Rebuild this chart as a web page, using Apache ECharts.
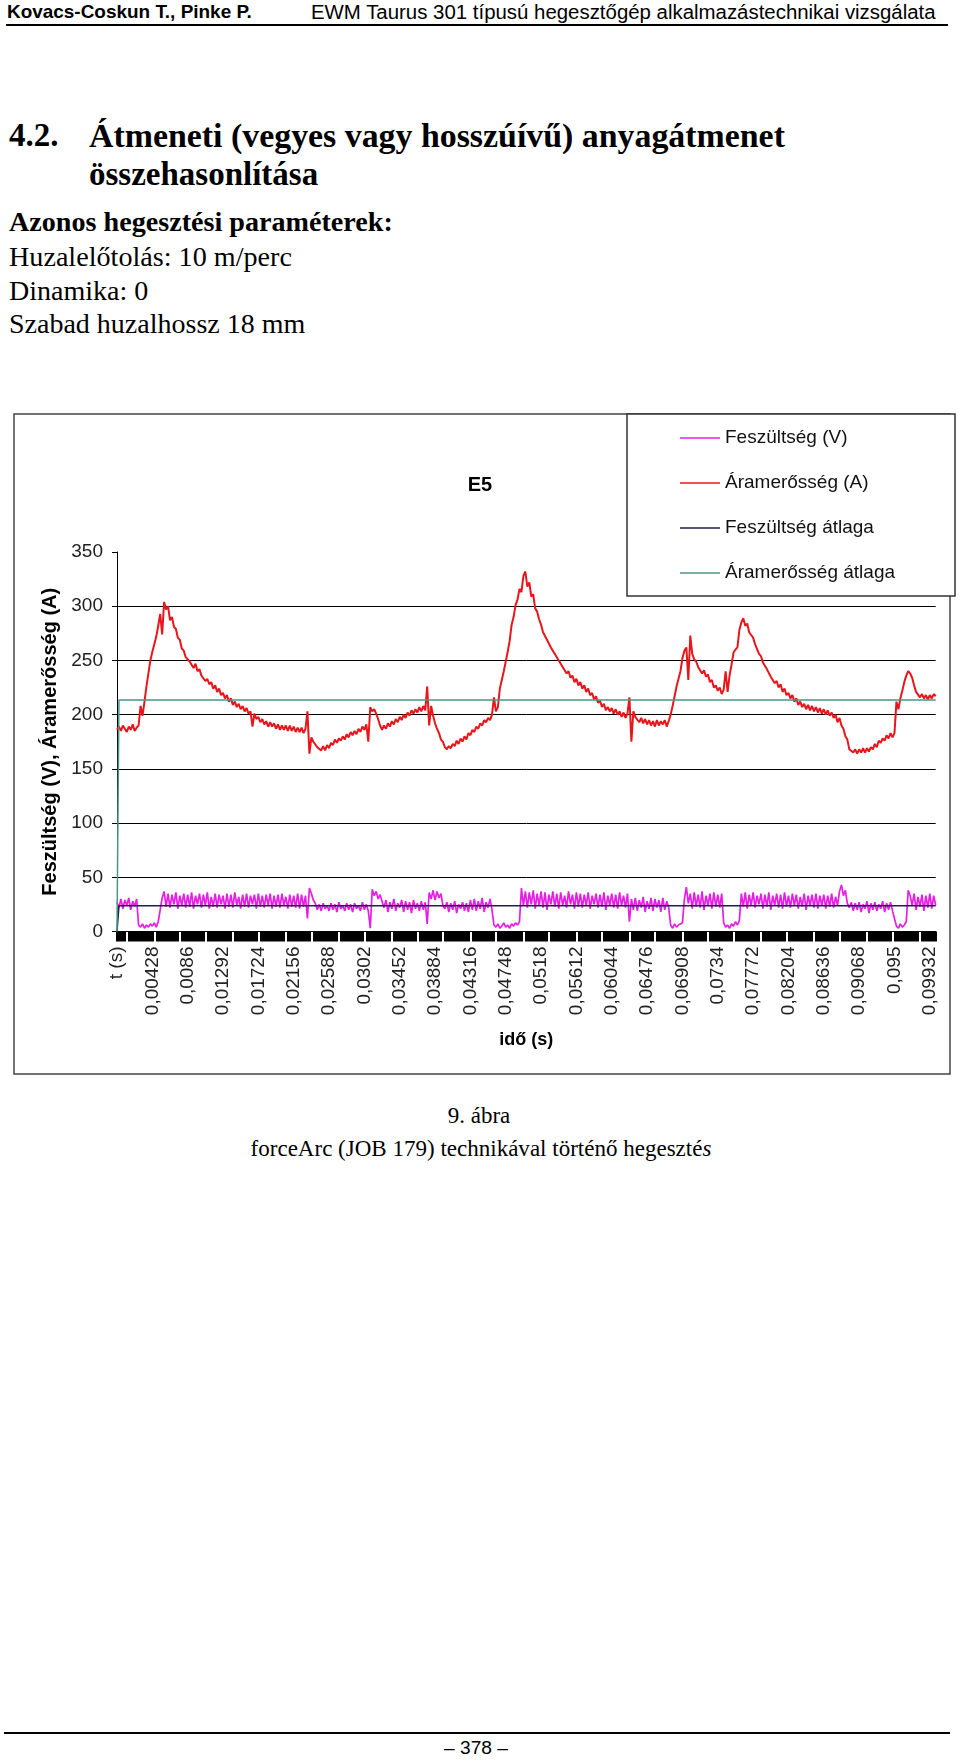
<!DOCTYPE html>
<html><head><meta charset="utf-8">
<script src="https://cdn.jsdelivr.net/npm/echarts@6/dist/echarts.min.js"></script>
<style>
html,body{margin:0;padding:0;background:#fff;}
body{width:960px;height:1763px;position:relative;overflow:hidden;}
.t{position:absolute;white-space:nowrap;color:#000;}
.serif{font-family:'Liberation Serif','Times New Roman',serif;}
.narrow{font-family:'Liberation Sans Narrow','Arial Narrow','Liberation Sans',sans-serif;}
.c{transform:translateX(-50%);}
.rule{position:absolute;background:#000;}
#chart{position:absolute;left:0;top:400px;width:960px;height:700px;}
</style></head><body>
<div class="t narrow" data-w="245" style="left:7px;top:2px;font-size:20px;line-height:20px;font-weight:bold">Kovacs-Coskun T., Pinke P.</div>
<div class="t narrow" data-w="625" style="left:311px;top:2px;font-size:20px;line-height:20px">EWM Taurus 301 típusú hegesztőgép alkalmazástechnikai vizsgálata</div>
<div class="rule" style="left:6px;top:24px;width:942px;height:2px"></div>

<div class="t serif" style="left:9px;top:119px;font-size:33px;line-height:33px;font-weight:bold">4.2.</div>
<div class="t serif" data-w="696" style="left:89px;top:119px;font-size:33px;line-height:33px;font-weight:bold">Átmeneti (vegyes vagy hosszúívű) anyagátmenet</div>
<div class="t serif" style="left:89px;top:158px;font-size:33px;line-height:33px;font-weight:bold">összehasonlítása</div>
<div class="t serif" data-w="384" style="left:9px;top:208px;font-size:28px;line-height:28px;font-weight:bold">Azonos hegesztési paraméterek:</div>
<div class="t serif" data-w="283" style="left:9px;top:243px;font-size:28px;line-height:28px">Huzalelőtolás: 10 m/perc</div>
<div class="t serif" style="left:9px;top:277px;font-size:28px;line-height:28px">Dinamika: 0</div>
<div class="t serif" style="left:9px;top:310px;font-size:28px;line-height:28px">Szabad huzalhossz 18 mm</div>

<div id="chart"></div>

<div class="t serif c" style="left:479px;top:1104px;font-size:23px;line-height:23px">9. ábra</div>
<div class="t serif c" data-w="461" style="left:481px;top:1137px;font-size:23px;line-height:23px">forceArc (JOB 179) technikával történő hegeszté<i>s</i></div>

<div class="rule" style="left:4px;top:1732px;width:946px;height:2px"></div>
<div class="t narrow c" data-w="64" style="left:476px;top:1739px;font-size:17px;line-height:17px">– 378 –</div>

<script>
document.querySelectorAll('[data-w]').forEach(function (el) {
  var w = el.getBoundingClientRect().width;
  var fs = parseFloat(el.style.fontSize);
  el.style.fontSize = (fs * (+el.dataset.w) / w).toFixed(2) + 'px';
});

// x-axis tick labels (every 18th category)
const tickLabels = ['t (s)','0,00428','0,0086','0,01292','0,01724','0,02156','0,02588','0,0302','0,03452','0,03884','0,04316','0,04748','0,0518','0,05612','0,06044','0,06476','0,06908','0,0734','0,07772','0,08204','0,08636','0,09068','0,095','0,09932'];
const T_FIRST = 0.0002, T_STEP = 0.00024, LABEL_EVERY = 18;

// Feszültség (V), one row per label interval
const voltage = [
27,22,30,21,29,24,31,20,28,23,30,6,4,7,3,6,4,7,
5,8,4,9,8,31,37,23,35,22,34,25,36,21,33,24,35,22,
34,23,36,21,33,25,35,22,34,24,36,21,32,23,35,22,34,25,
33,21,35,23,34,22,36,24,32,21,34,23,35,22,33,25,34,21,
35,23,33,22,34,24,35,21,33,23,34,22,35,24,32,21,34,23,
33,22,35,21,34,23,33,12,40,35,29,26,20,25,19,26,21,24,
19,26,20,25,18,27,21,24,19,26,20,25,18,26,21,24,19,27,
20,25,19,3,39,33,37,30,34,28,22,29,18,27,21,30,19,26,
22,29,18,28,20,27,17,29,21,26,19,28,20,27,7,36,30,38,
29,37,31,35,24,21,27,18,26,20,28,17,25,21,27,19,26,18,
29,20,30,19,28,21,31,18,27,22,30,20,6,4,7,3,5,8,
4,6,3,7,5,8,6,9,40,24,37,22,36,25,38,21,35,24,
37,22,36,20,34,25,37,23,35,21,36,24,33,22,37,25,34,21,
36,23,35,22,34,24,36,21,33,25,35,22,34,23,36,20,33,24,
35,22,34,21,36,24,33,22,35,9,30,20,31,19,29,22,32,18,
28,21,31,19,30,22,29,18,31,20,28,22,6,3,7,4,6,5,
8,30,41,26,35,21,36,23,34,22,37,20,33,24,35,21,36,23,
34,22,35,8,4,6,3,7,5,9,6,10,35,23,36,21,34,24,
36,22,33,25,35,21,34,23,36,20,33,24,35,22,34,21,36,23,
33,22,35,24,34,21,32,23,35,20,33,24,34,22,35,21,33,24,
34,21,33,23,35,22,32,24,37,43,33,38,26,22,27,19,26,20,
27,18,25,21,28,17,26,20,27,19,25,21,28,18,26,20,27,19,
12,5,3,7,4,6,9,38,33,24,35,20,32,23,34,19,33,22,
35,21,33,24
];

// Áramerősség (A)
const current = [
186,189,185,190,187,184,189,186,191,185,188,190,208,199,212,226,238,250,
258,265,272,282,293,274,304,297,300,287,290,281,279,271,269,261,259,253,
254,249,248,243,247,240,242,236,237,231,233,228,230,224,227,221,224,218,
220,215,218,212,215,209,212,207,210,205,208,203,206,201,203,189,201,196,
198,193,196,191,194,189,193,189,192,187,191,186,190,186,190,185,190,185,
189,184,188,184,188,183,187,203,164,179,175,174,170,171,167,171,167,172,
169,174,172,177,174,178,176,180,177,182,179,184,181,185,182,187,184,189,
186,191,175,207,203,205,201,196,190,186,190,187,192,189,194,191,196,193,
198,195,200,197,202,199,204,201,205,202,207,203,208,204,226,190,208,199,
192,187,183,177,175,170,168,171,169,173,171,176,173,178,175,180,177,183,
181,186,184,189,187,192,190,195,193,197,195,200,216,203,207,224,232,240,
249,258,268,283,290,301,306,316,313,328,332,318,322,309,311,298,295,288,
283,276,277,269,270,262,263,256,257,250,251,244,245,238,240,234,236,230,
233,227,230,224,227,221,224,218,220,214,217,211,213,207,210,204,207,203,
206,201,205,200,203,198,202,197,201,216,175,203,198,199,193,197,192,196,
191,195,190,194,189,195,190,194,191,195,189,194,200,208,217,226,233,240,
252,259,262,232,273,256,251,249,244,245,238,241,235,237,230,232,225,227,
222,225,219,223,240,221,236,246,257,260,262,278,285,289,282,284,276,277,
271,265,264,256,254,248,248,242,242,235,235,229,231,225,228,221,224,218,
220,215,218,212,215,209,212,207,210,205,209,204,208,203,207,202,206,201,
205,200,204,199,202,197,200,193,197,190,187,180,177,168,169,165,168,164,
168,165,169,165,169,166,170,168,173,170,176,174,178,176,181,178,183,179,
183,212,205,215,222,230,236,240,238,234,227,221,220,216,219,215,218,214,
218,215,219,217
];

const voltageAvg = 23.8;   // Feszültség átlaga
const currentAvg = 213.5;  // Áramerősség átlaga

const categories = current.map(function (_, i) {
  return i % LABEL_EVERY === 0 ? tickLabels[i / LABEL_EVERY]
    : String(+(T_FIRST + (i - 1) * T_STEP).toFixed(5)).replace('.', ',');
});
const last = categories.length - 1;

const FONT = "'Liberation Sans', Arial, sans-serif";
const chart = echarts.init(document.getElementById('chart'), null, {renderer: 'canvas'});
chart.setOption({
  animation: false,
  backgroundColor: 'transparent',
  title: {
    text: 'E5', left: 'center', top: 75, padding: 0,
    textStyle: {fontFamily: FONT, fontSize: 20, fontWeight: 'bold', color: '#000'}
  },
  graphic: [
    {type: 'rect', shape: {x: 14, y: 14, width: 936, height: 660}, style: {fill: 'none', stroke: '#444', lineWidth: 1.5}, z: 0},
    {type: 'rect', shape: {x: 627, y: 14, width: 328, height: 182}, style: {fill: '#fff', stroke: '#333', lineWidth: 1.5}, z: 1}
  ],
  legend: {
    orient: 'vertical', left: 680, top: 28, padding: 0,
    icon: 'rect', itemWidth: 40, itemHeight: 1.5, itemGap: 25, z: 5,
    textStyle: {fontFamily: FONT, fontSize: 19, lineHeight: 20, color: '#111'},
    data: ['Feszültség (V)', 'Áramerősség (A)', 'Feszültség átlaga', 'Áramerősség átlaga']
  },
  grid: {left: 117, top: 152, width: 818.7, height: 379.5, outerBoundsMode: 'none', containLabel: false},
  xAxis: {
    type: 'category', data: categories, boundaryGap: false,
    axisLine: {lineStyle: {color: '#000', width: 1}},
    axisTick: {
      length: 10, lineStyle: {color: '#000', width: 2},
      interval: function (idx) { var p = (idx - 5.1) / 13.45; return Math.abs(p - Math.round(p)) * 13.45 >= 0.5; }
    },
    axisLabel: {interval: LABEL_EVERY - 1, rotate: 90, margin: 15, fontFamily: FONT, fontSize: 19, color: '#222'},
    splitLine: {show: false},
    name: 'idő (s)', nameLocation: 'middle', nameGap: 100,
    nameTextStyle: {fontFamily: FONT, fontSize: 18, fontWeight: 'bold', color: '#000'}
  },
  yAxis: {
    type: 'value', min: 0, max: 350, interval: 50,
    axisLine: {show: true, lineStyle: {color: '#000', width: 1}},
    axisTick: {show: true, length: 5, lineStyle: {color: '#000'}},
    axisLabel: {margin: 14, fontFamily: FONT, fontSize: 19, color: '#222'},
    splitLine: {show: true, showMaxLine: false, lineStyle: {color: '#000', width: 1}},
    name: 'Feszültség (V), Áramerősség (A)', nameLocation: 'middle', nameGap: 57,
    nameTextStyle: {fontFamily: FONT, fontSize: 20, fontWeight: 'bold', color: '#000'}
  },
  series: [
    {name: 'Feszültség (V)', type: 'line', data: voltage, symbol: 'none', z: 2,
     lineStyle: {color: '#e61ee6', width: 1.7}, itemStyle: {color: '#e61ee6'}},
    {name: 'Áramerősség (A)', type: 'line', data: current, symbol: 'none', z: 3,
     lineStyle: {color: '#e8161b', width: 2}, itemStyle: {color: '#e8161b'}},
    {name: 'Feszültség átlaga', type: 'line', data: [[0, 0], [1, voltageAvg], [last, voltageAvg]], symbol: 'none', z: 4,
     lineStyle: {color: '#1e1e50', width: 1.5}, itemStyle: {color: '#1e1e50'}},
    {name: 'Áramerősség átlaga', type: 'line', data: [[0, 0], [1, currentAvg], [last, currentAvg]], symbol: 'none', z: 4,
     lineStyle: {color: '#4a9686', width: 1.5}, itemStyle: {color: '#4a9686'}}
  ]
});
</script>
</body></html>
